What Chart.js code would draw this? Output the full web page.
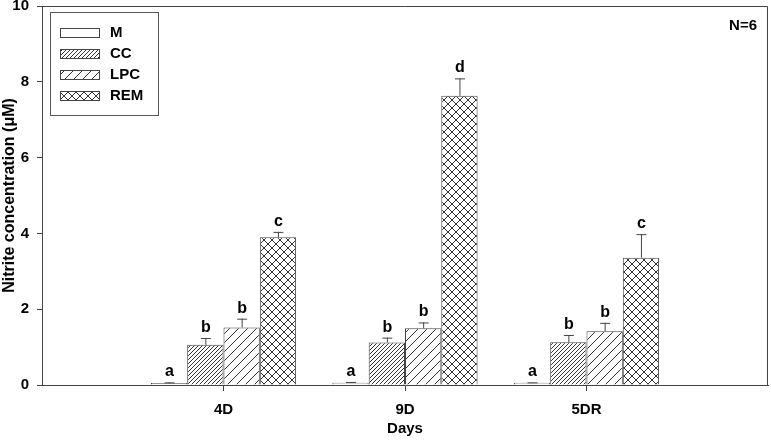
<!DOCTYPE html>
<html lang="en">
<head>
<meta charset="UTF-8">
<title>Nitrite concentration by day</title>
<script src="https://cdn.jsdelivr.net/npm/chart.js"></script>
<style>
  html, body { margin: 0; padding: 0; background: #fff; }
  #wrap { width: 771px; height: 440px; }
</style>
</head>
<body>
<div id="wrap"><canvas id="chart" width="771" height="440"></canvas></div>
<script>
// categories (blank slots at both ends keep the axis running 0..4)
const days = ['', '4D', '9D', '5DR', ''];
const seriesNames = ['M', 'CC', 'LPC', 'REM'];

// means (uM)
const meanM   = [null, 0.05, 0.06, 0.06, null];
const meanCC  = [null, 1.06, 1.12, 1.13, null];
const meanLPC = [null, 1.52, 1.50, 1.42, null];
const meanREM = [null, 3.90, 7.63, 3.36, null];

// error bars (upper only)
const errM   = [null, 0.02, 0.02, 0.01, null];
const errCC  = [null, 0.18, 0.13, 0.19, null];
const errLPC = [null, 0.23, 0.15, 0.22, null];
const errREM = [null, 0.14, 0.46, 0.62, null];

// significance letters
const letM   = [null, 'a', 'a', 'a', null];
const letCC  = [null, 'b', 'b', 'b', null];
const letLPC = [null, 'b', 'b', 'b', null];
const letREM = [null, 'c', 'd', 'c', null];

const yTicks = [0, 2, 4, 6, 8, 10];

const FONT = "'Liberation Sans', Arial, sans-serif";
const LINE = '#444';

// hatch fills
function hatch(size, slash, back) {
    const c = document.createElement('canvas');
    c.width = c.height = size;
    const g = c.getContext('2d');
    g.fillStyle = '#fff';
    g.fillRect(0, 0, size, size);
    g.strokeStyle = '#333';
    g.lineWidth = 1;
    g.beginPath();
    for (const o of [-size, 0, size]) {
        if (slash) { g.moveTo(o, size); g.lineTo(o + size, 0); }
        if (back) { g.moveTo(o, 0); g.lineTo(o + size, size); }
    }
    g.stroke();
    return g.createPattern(c, 'repeat');
}

const fills = ['#ffffff', hatch(4, true, false), hatch(9, true, false), hatch(8, true, true)];
const means = [meanM, meanCC, meanLPC, meanREM];
const errs = [errM, errCC, errLPC, errREM];
const letters = [letM, letCC, letLPC, letREM];

const extras = {
    id: 'extras',
    afterDatasetsDraw(chart) {
        const ctx = chart.ctx;
        const y = chart.scales.y;
        const area = chart.chartArea;
        ctx.save();

        // error bars + letters
        chart.data.datasets.forEach((ds, di) => {
            const meta = chart.getDatasetMeta(di);
            meta.data.forEach((el, i) => {
                const v = means[di][i];
                if (v == null) return;
                const top = y.getPixelForValue(v);
                const cap = y.getPixelForValue(v + errs[di][i]);
                ctx.strokeStyle = LINE;
                ctx.lineWidth = 1;
                ctx.beginPath();
                ctx.moveTo(el.x + 0.5, top);
                ctx.lineTo(el.x + 0.5, cap);
                ctx.moveTo(el.x - 4.5, cap + 0.5);
                ctx.lineTo(el.x + 5.5, cap + 0.5);
                ctx.stroke();
                ctx.fillStyle = '#000';
                ctx.font = 'bold 16px ' + FONT;
                ctx.textAlign = 'center';
                ctx.textBaseline = 'alphabetic';
                ctx.fillText(letters[di][i], el.x + 0.5, cap - 6);
            });
        });

        // frame top and right
        ctx.strokeStyle = LINE;
        ctx.lineWidth = 1;
        ctx.beginPath();
        ctx.moveTo(area.left, area.top + 0.5);
        ctx.lineTo(area.right - 0.5, area.top + 0.5);
        ctx.lineTo(area.right - 0.5, area.bottom);
        ctx.stroke();

        // N=6
        ctx.fillStyle = '#000';
        ctx.font = 'bold 15px ' + FONT;
        ctx.textAlign = 'right';
        ctx.textBaseline = 'middle';
        ctx.fillText('N=6', area.right - 11, area.top + 20);

        // legend box
        const lx = area.left + 8, ly = area.top + 6;
        ctx.strokeStyle = '#555';
        ctx.strokeRect(lx + 0.5, ly + 0.5, 108, 103);
        seriesNames.forEach((name, k) => {
            const cy = ly + 20 + k * 21;
            ctx.fillStyle = fills[k];
            ctx.fillRect(lx + 10, cy - 4, 39, 9);
            ctx.strokeStyle = LINE;
            ctx.strokeRect(lx + 10.5, cy - 3.5, 39, 9);
            ctx.fillStyle = '#000';
            ctx.font = 'bold 15px ' + FONT;
            ctx.textAlign = 'left';
            ctx.textBaseline = 'middle';
            ctx.fillText(name, lx + 60, cy + 1);
        });
        ctx.restore();
    }
};

new Chart(document.getElementById('chart').getContext('2d'), {
    type: 'bar',
    data: {
        labels: days,
        datasets: seriesNames.map((name, k) => ({
            label: name,
            data: means[k],
            backgroundColor: fills[k],
            borderColor: LINE,
            borderWidth: 1,
            categoryPercentage: 0.8,
            barPercentage: 1.0
        }))
    },
    options: {
        responsive: false,
        animation: false,
        layout: { padding: { left: 0, top: 6, right: 3, bottom: 0 } },
        plugins: {
            legend: { display: false },
            tooltip: { enabled: false }
        },
        scales: {
            x: {
                type: 'category',
                offset: false,
                grid: {
                    offset: false,
                    drawOnChartArea: false,
                    tickLength: 6,
                    tickColor: c => (c.index === 0 || c.index === days.length - 1) ? 'rgba(0,0,0,0)' : LINE
                },
                border: { color: LINE },
                ticks: {
                    color: '#000',
                    font: { family: FONT, size: 15, weight: 'bold' },
                    padding: 10,
                    maxRotation: 0,
                    autoSkip: false
                },
                title: {
                    display: true,
                    text: 'Days',
                    color: '#000',
                    font: { family: FONT, size: 15, weight: 'bold' },
                    padding: { top: 0, bottom: 2 }
                },
                afterFit: s => { s.height = 55; s.paddingLeft = 0; s.paddingRight = 0; }
            },
            y: {
                min: 0,
                max: 10,
                afterBuildTicks: s => { s.ticks = yTicks.map(v => ({ value: v })); },
                grid: { drawOnChartArea: false, tickLength: 5, tickColor: LINE },
                border: { color: LINE },
                ticks: {
                    color: '#000',
                    font: { family: FONT, size: 15, weight: 'bold' },
                    padding: 8
                },
                title: {
                    display: true,
                    text: 'Nitrite concentration (μM)',
                    color: '#000',
                    font: { family: FONT, size: 16, weight: 'bold' },
                    padding: { top: 0, bottom: 0 }
                },
                afterFit: s => { s.width = 42; s.paddingTop = 0; s.paddingBottom = 0; }
            }
        }
    },
    plugins: [extras]
});
</script>
</body>
</html>
